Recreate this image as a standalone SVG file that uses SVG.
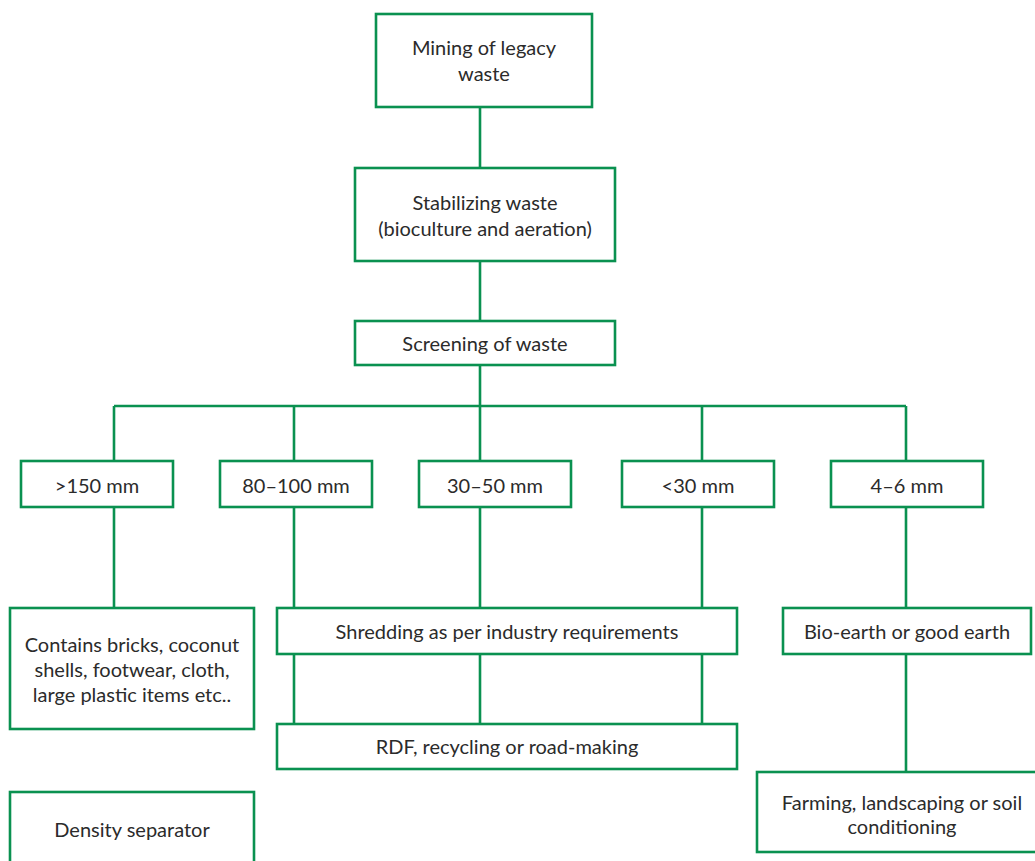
<svg xmlns="http://www.w3.org/2000/svg" width="1035" height="861" viewBox="0 0 1035 861">
<style>
.box{fill:#fff;stroke:#0a9150;stroke-width:2.6}
.ln{fill:none;stroke:#0a9150;stroke-width:2.6}
text{font-family:Lato,"Open Sans","Liberation Sans",sans-serif;font-size:20px;fill:#2b2b2b;text-anchor:middle}
</style>
<rect width="1035" height="861" fill="#fff"/>
<g id="connectors">
<path class="ln" d="M480 107V168M480 261V321M480 365V461M114 406H906M114 406V461M294 406V461M702 406V461M906 406V461"/>
<path class="ln" d="M114 507V608M294 507V724M480 507V724M702 507V724M906 507V772"/>
</g>
<g id="mining"><rect class="box" x="376" y="14" width="216" height="93"/><text x="484" y="55">Mining of legacy</text><text x="484" y="81">waste</text></g>
<g id="stabilizing"><rect class="box" x="355" y="168" width="260" height="93"/><text x="485" y="210">Stabilizing waste</text><text x="485" y="236">(bioculture and aeration)</text></g>
<g id="screening"><rect class="box" x="355" y="321" width="260" height="44"/><text x="485" y="351">Screening of waste</text></g>
<g id="s150"><rect class="box" x="21" y="461" width="152" height="46"/><text x="97" y="493">&gt;150 mm</text></g>
<g id="s80"><rect class="box" x="220" y="461" width="152" height="46"/><text x="296" y="493">80–100 mm</text></g>
<g id="s30"><rect class="box" x="419" y="461" width="152" height="46"/><text x="495" y="493">30–50 mm</text></g>
<g id="slt30"><rect class="box" x="622" y="461" width="152" height="46"/><text x="698" y="493">&lt;30 mm</text></g>
<g id="s4"><rect class="box" x="831" y="461" width="152" height="46"/><text x="907" y="493">4–6 mm</text></g>
<g id="contains"><rect class="box" x="10" y="608" width="244" height="121"/><text x="132" y="652">Contains bricks, coconut</text><text x="132" y="677">shells, footwear, cloth,</text><text x="132" y="702">large plastic items etc..</text></g>
<g id="shredding"><rect class="box" x="277" y="608" width="460" height="46"/><text x="507" y="639">Shredding as per industry requirements</text></g>
<g id="rdf"><rect class="box" x="277" y="724" width="460" height="45"/><text x="507" y="754">RDF, recycling or road-making</text></g>
<g id="bioearth"><rect class="box" x="783" y="608" width="248" height="46"/><text x="907" y="639">Bio-earth or good earth</text></g>
<g id="farming"><rect class="box" x="757" y="772" width="290" height="80"/><text x="902" y="810">Farming, landscaping or soil</text><text x="902" y="834">conditioning</text></g>
<g id="density"><rect class="box" x="10" y="792" width="244" height="90"/><text x="132" y="837">Density separator</text></g>
</svg>
